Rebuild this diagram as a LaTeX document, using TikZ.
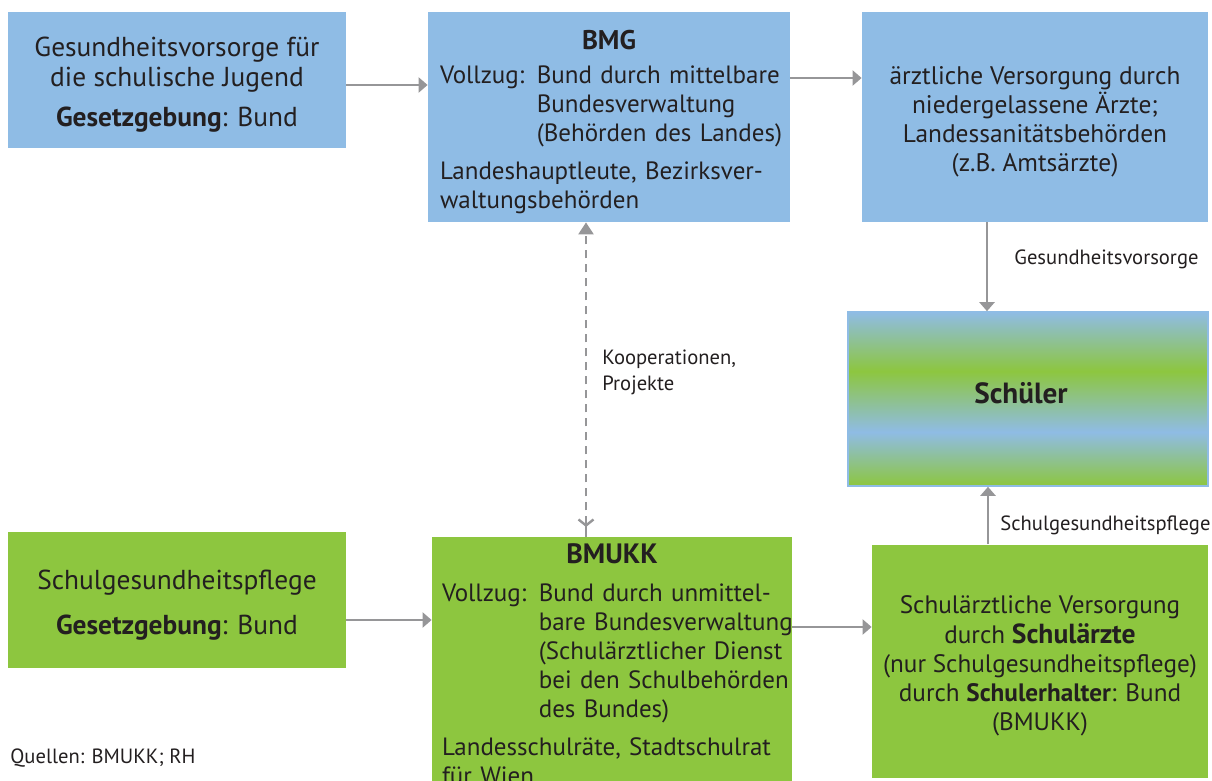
\documentclass[tikz,border=0pt]{standalone}
\usepackage{fontspec}
\setmainfont{PT Sans}
\usetikzlibrary{arrows.meta}

\definecolor{boxblue}{RGB}{143,188,229}
\definecolor{boxgreen}{RGB}{141,198,63}
\definecolor{linegray}{RGB}{150,150,152}
\definecolor{textblack}{RGB}{35,31,32}

% stripes for the Schueler box (bottom to top: green, blue, green, blue)
\pgfdeclareverticalshading{schuelerstripes}{100bp}{%
  color(0bp)=(boxgreen); color(25bp)=(boxgreen); color(40.5bp)=(boxblue);
  color(58bp)=(boxgreen); color(75bp)=(boxblue); color(100bp)=(boxblue)}

\tikzset{
  bluebox/.style={fill=boxblue, inner sep=0pt, text=textblack},
  greenbox/.style={fill=boxgreen, inner sep=0pt, text=textblack},
  flow/.style={draw=linegray, line width=1.2pt, -{Triangle[length=4.5pt,width=7.5pt]}},
  flowlabel/.style={font=\fontsize{10.3}{13}\selectfont, text=textblack, anchor=west, align=left, inner sep=0pt}
}

\begin{document}
\begin{tikzpicture}[x=0.5pt, y=-0.5pt]
      \useasboundingbox (0,0) rectangle (1212,781);
      \clip (0,0) rectangle (1212,781);

      % left column
      \node[bluebox, minimum width=169pt, minimum height=68pt, align=center,
            font=\fontsize{13.7}{15}\selectfont] (vorsorge) at (177,80)
            {\\[-1pt]Gesundheitsvorsorge für\\die schulische Jugend\\[5pt]\textbf{Gesetzgebung}: Bund};
      \node[greenbox, minimum width=169pt, minimum height=68pt, align=center,
            font=\fontsize{13.7}{15}\selectfont] (pflege) at (177,600)
            {\\[-0.5pt]Schulgesundheitspflege\\[7.5pt]\textbf{Gesetzgebung}: Bund};

      % middle column
      \node[bluebox, minimum width=181pt, minimum height=105pt, inner xsep=6pt,
            text width=169pt, font=\fontsize{12.5}{14.5}\selectfont] (bmg) at (609,117)
            {{\centering\rule{0pt}{14.75pt}\fontsize{13.5}{14.5}\selectfont\textbf{BMG}\par}\vspace{5.75pt}
             \begin{tabular}{@{}l@{ }l@{}}
             Vollzug: & Bund durch mittelbare\\
                      & Bundesverwaltung\\
                      & (Behörden des Landes)
             \end{tabular}\par\vspace{4.5pt}
             Landeshauptleute, Bezirksver-\\waltungsbehörden};
      \node[greenbox, anchor=north, inner xsep=5pt, inner ysep=3pt, text width=170pt,
            font=\fontsize{12.5}{14.6}\selectfont] (bmukk) at (612,537)
            {{\centering\fontsize{14}{14.6}\selectfont\textbf{BMUKK}\par}\vspace{7.5pt}
             \begin{tabular}{@{}l@{ }l@{}}
             Vollzug: & Bund durch unmittel-\\
                      & bare Bundesverwaltung\\
                      & (Schulärztlicher Dienst\\
                      & bei den Schulbehörden\\
                      & des Bundes)
             \end{tabular}\par\vspace{4.5pt}
             Landesschulräte, Stadtschulrat\\für Wien\\ \strut};

      % right column
      \node[bluebox, minimum width=173pt, minimum height=105pt, align=center,
            font=\fontsize{12.7}{14.5}\selectfont] (aerzte) at (1035,117)
            {\\[-1pt]ärztliche Versorgung durch\\niedergelassene Ärzte;\\Landessanitätsbehörden\\(z.B. Amtsärzte)};
      \node[minimum width=180pt, minimum height=87pt, draw=boxblue, line width=0.8pt,
            shading=schuelerstripes, text=textblack,
            font=\fontsize{14.6}{15}\selectfont\bfseries] (schueler) at (1028,399)
            {\raisebox{6pt}{Schüler}\rule{7pt}{0pt}};
      \node[greenbox, minimum width=168pt, minimum height=116.5pt, align=center,
            font=\fontsize{12.6}{14.6}\selectfont] (schulaerzte) at (1040,661)
            {\\[-0.5pt]Schulärztliche Versorgung\\durch {\fontsize{13.8}{14.6}\selectfont\textbf{Schulärzte}}\\(nur Schulgesundheitspflege)\\durch \textbf{Schulerhalter}: Bund\\(BMUKK)};

      % connectors
      \draw[flow] (vorsorge.east |- 0,85) -- (bmg.west |- 0,85);
      \draw[flow] (bmg.east |- 0,78) -- (aerzte.west |- 0,78);
      \draw[flow] (pflege.east |- 0,620) -- (bmukk.west |- 0,620);
      \draw[flow] (bmukk.east |- 0,627) -- (schulaerzte.west |- 0,627);
      \draw[flow] (aerzte.south -| 987,0) -- (schueler.north -| 987,0);
      \draw[flow] (schulaerzte.north -| 988,0) -- (schueler.south -| 988,0);
      \draw[draw=linegray, line width=1.2pt, dash pattern=on 4pt off 3pt,
            {Straight Barb[length=3pt,width=7.5pt]}-{Triangle[length=6pt,width=7.5pt]}]
            ([yshift=5pt]bmukk.north -| 586,0) -- (bmg.south -| 586,0);
      \draw[draw=linegray, line width=1.2pt] (bmukk.north -| 586,0) -- ++(0,-12);

      % labels
      \node[flowlabel] (l1) at (1014,259) {Gesundheitsvorsorge};
      \node[flowlabel] (l2) at (602,372) {Kooperationen,\\Projekte};
      \node[flowlabel] (l3) at (1000,525) {Schulgesundheitspflege};
      \node[flowlabel] (quelle) at (10,758) {Quellen: BMUKK; RH};
\end{tikzpicture}
\end{document}
